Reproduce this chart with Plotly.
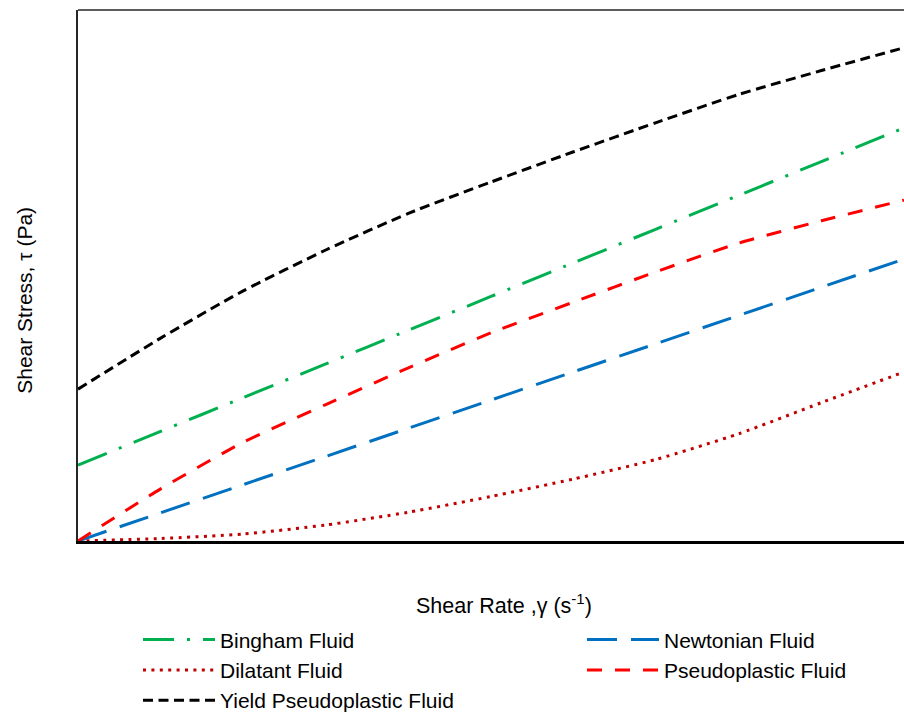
import plotly.graph_objects as go

# Shear rate (arbitrary units, no tick labels shown)
shear_rate = [0, 1, 2, 3, 4, 5, 6, 7, 8, 9, 10]

# Shear stress for each rheological model
bingham = [14.3, 20.65, 27.0, 33.35, 39.7, 46.05, 52.4, 58.75, 65.1, 71.45, 77.8]
newtonian = [0, 5.31, 10.62, 15.93, 21.24, 26.55, 31.86, 37.17, 42.48, 47.79, 53.1]
dilatant = [0, 0.47, 1.32, 3.01, 5.42, 8.38, 11.68, 15.37, 20.2, 26.06, 31.83]
pseudoplastic = [0, 9.81, 18.6, 25.7, 32.6, 39.2, 45.0, 50.7, 56.1, 60.3, 64.2]
yield_pseudoplastic = [28.6, 38.2, 47.1, 54.8, 61.7, 67.6, 73.3, 78.8, 84.1, 88.6, 92.9]

# name, values, colour, dash pattern, legend column
series = [
    ("Bingham Fluid", bingham, "#00B050", "31px,13px,3px,13px", "legend"),
    ("Newtonian Fluid", newtonian, "#0070C0", "30px,14px", "legend2"),
    ("Dilatant Fluid", dilatant, "#C00000", "3px,5.4px", "legend"),
    ("Pseudoplastic Fluid", pseudoplastic, "#FF0000", "15px,13px", "legend2"),
    ("Yield Pseudoplastic Fluid", yield_pseudoplastic, "#000000", "10px,5.5px", "legend"),
]

FONT = "Liberation Sans, Arial, sans-serif"
FS = 21

fig = go.Figure()
for name, values, color, dash, leg in series:
    fig.add_trace(go.Scatter(
        x=shear_rate, y=values, name=name, mode="lines", legend=leg,
        line=dict(color=color, width=3, dash=dash, shape="spline", smoothing=0.6),
    ))

legend_common = dict(
    orientation="v",
    xref="container", yref="container",
    yanchor="top", xanchor="left",
    itemwidth=72,
    font=dict(family=FONT, size=FS, color="#000000"),
    bgcolor="rgba(0,0,0,0)",
    traceorder="normal",
)

fig.update_layout(
    width=904, height=712,
    margin=dict(l=78, r=0, t=10, b=171, autoexpand=False),
    paper_bgcolor="white", plot_bgcolor="white",
    font=dict(family=FONT, size=FS, color="#000000"),
    showlegend=True,
    legend=dict(legend_common, x=138 / 904, y=0.13),
    legend2=dict(legend_common, x=582 / 904, y=0.13),
    xaxis=dict(
        range=[0, 10], showgrid=False, zeroline=False,
        showticklabels=False, ticks="",
        showline=True, linecolor="#000000", linewidth=3, mirror=False,
    ),
    yaxis=dict(
        range=[0, 100], showgrid=False, zeroline=False,
        showticklabels=False, ticks="",
        showline=True, linecolor="#262626", linewidth=1.5, mirror=False,
    ),
    shapes=[
        dict(type="line", xref="paper", yref="paper", x0=0, x1=1, y0=1, y1=1,
             line=dict(color="#262626", width=1.5)),
    ],
    annotations=[
        dict(text="Shear Rate ,γ (s<sup>-1</sup>)", xref="paper", yref="paper",
             x=0.516, y=-0.118, xanchor="center", yanchor="middle",
             showarrow=False, font=dict(family=FONT, size=21.5)),
        dict(text="Shear Stress, τ (Pa)", xref="paper", yref="paper",
             x=-0.065, y=0.453, xanchor="center", yanchor="middle",
             textangle=-90, showarrow=False, font=dict(family=FONT, size=FS)),
    ],
)

fig.write_html("out.html")
